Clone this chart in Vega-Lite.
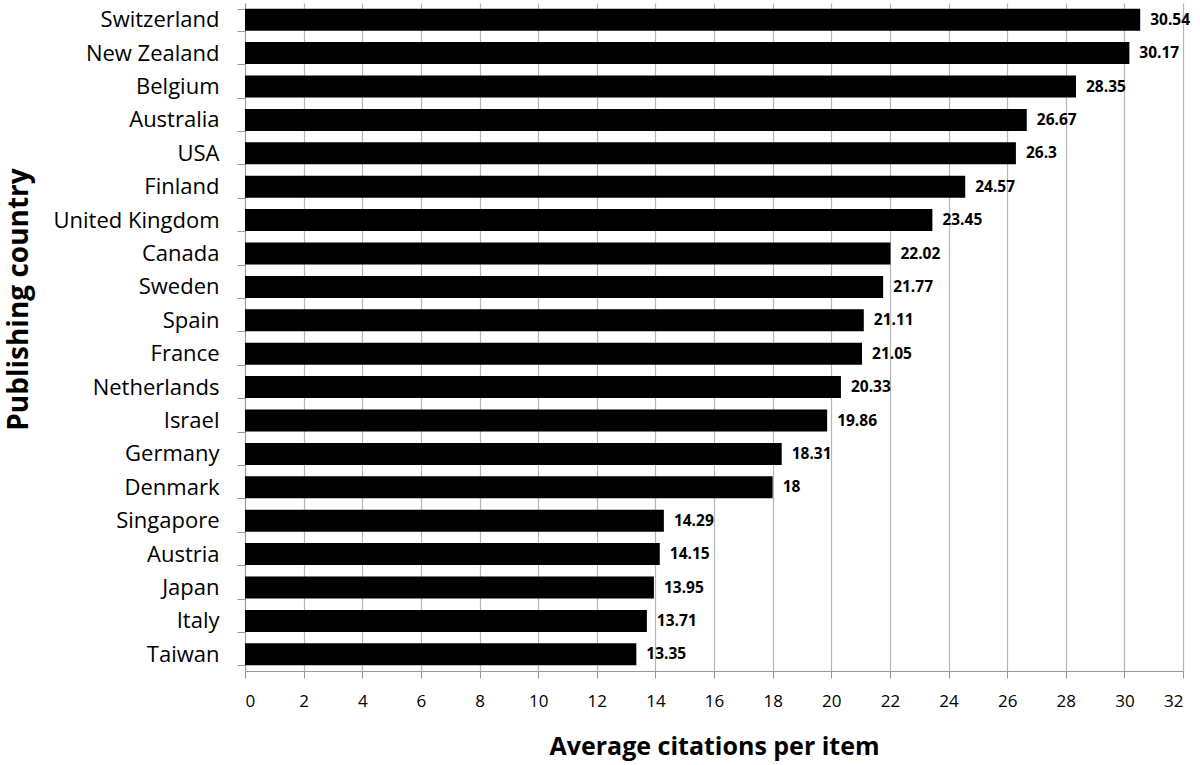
{
  "$schema": "https://vega.github.io/schema/vega-lite/v6.json",
  "autosize": {"type": "none"},
  "width": 938,
  "height": 668,
  "padding": {"left": 245, "top": 3, "right": 17, "bottom": 94},
  "background": "white",
  "config": {"view": {"stroke": null}, "font": "Open Sans"},
  "data": {"values": [
    {"country": "Switzerland", "value": 30.54},
    {"country": "New Zealand", "value": 30.17},
    {"country": "Belgium", "value": 28.35},
    {"country": "Australia", "value": 26.67},
    {"country": "USA", "value": 26.3},
    {"country": "Finland", "value": 24.57},
    {"country": "United Kingdom", "value": 23.45},
    {"country": "Canada", "value": 22.02},
    {"country": "Sweden", "value": 21.77},
    {"country": "Spain", "value": 21.11},
    {"country": "France", "value": 21.05},
    {"country": "Netherlands", "value": 20.33},
    {"country": "Israel", "value": 19.86},
    {"country": "Germany", "value": 18.31},
    {"country": "Denmark", "value": 18},
    {"country": "Singapore", "value": 14.29},
    {"country": "Austria", "value": 14.15},
    {"country": "Japan", "value": 13.95},
    {"country": "Italy", "value": 13.71},
    {"country": "Taiwan", "value": 13.35}
  ]},
  "encoding": {
    "y": {
      "field": "country", "type": "nominal", "sort": "-x",
      "scale": {"paddingInner": 0.34, "paddingOuter": 0.17},
      "axis": {
        "title": "Publishing country",
        "titleFont": "Open Sans", "titleFontSize": 28, "titleFontWeight": "bold", "titleColor": "black",
        "titleAngle": -90, "titleX": -226, "titleY": 296, "titleAlign": "center", "titleBaseline": "middle",
        "labelFont": "Open Sans", "labelFontSize": 22, "labelColor": "black", "labelPadding": 18,
        "tickBand": "extent", "tickSize": 8, "tickColor": "#999999", "domainColor": "#999999",
        "grid": false
      }
    },
    "x": {
      "field": "value", "type": "quantitative",
      "scale": {"domain": [0, 32], "nice": false},
      "axis": {
        "title": "Average citations per item",
        "titleFont": "Open Sans", "titleFontSize": 25, "titleFontWeight": "bold", "titleColor": "black",
        "titleY": 75, "titleBaseline": "middle",
        "values": [0,2,4,6,8,10,12,14,16,18,20,22,24,26,28,30,32],
        "labelFont": "Open Sans", "labelFontSize": 17, "labelColor": "black", "labelPadding": 15,
        "tickSize": 7, "tickColor": "#999999", "domainColor": "#999999",
        "grid": true, "gridColor": "#b5b5b5", "gridWidth": 1.2
      }
    }
  },
  "layer": [
    {"mark": {"type": "bar", "color": "black"}},
    {"mark": {"type": "text", "align": "left", "baseline": "middle", "dx": 10, "fontSize": 15.5, "fontWeight": "bold", "font": "Open Sans", "color": "black"},
     "encoding": {"text": {"field": "value", "type": "quantitative"}}}
  ]
}
